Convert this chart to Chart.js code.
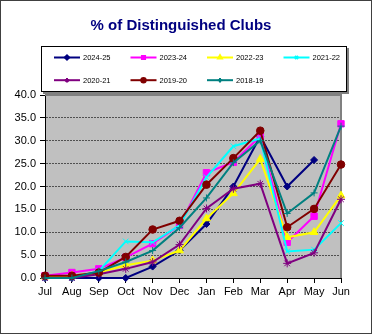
<!DOCTYPE html>
<html>
<head>
<meta charset="utf-8">
<script src="https://cdn.jsdelivr.net/npm/chart.js@4/dist/chart.umd.min.js"></script>
<style>
  body { margin: 0; background: #fff; }
</style>
</head>
<body>
<canvas id="clubsChart" width="372" height="334"></canvas>
<script>
// categories
const months = ['Jul', 'Aug', 'Sep', 'Oct', 'Nov', 'Dec', 'Jan', 'Feb', 'Mar', 'Apr', 'May', 'Jun'];

// % distinguished clubs per program year
const fy2425 = [0, 0, 0, 0, 2.5, 6, 11.8, 20, 31, 20, 25.8, null];
const fy2324 = [0.5, 1.2, 2, 4.5, 7.5, 11.5, 23, 25.3, 31, 7.8, 13.5, 33.7];
const fy2223 = [0.3, 0.5, 1.2, 2.8, 3.8, 6, 13, 18.5, 26, 8.9, 10, 18];
const fy2122 = [0, 0, 1.5, 8, 7.8, 11.5, 22, 28.8, 30.5, 5.8, 6.2, 12];
const fy2021 = [0, 0, 0.8, 2, 3.5, 7.3, 15.2, 19.5, 20.6, 3.2, 5.5, 17.2];
const fy1920 = [0.5, 0.5, 1.2, 4.6, 10.6, 12.5, 20.4, 26.2, 32.2, 11.1, 15.1, 24.8];
const fy1819 = [0, 0, 1.5, 3.5, 6, 11, 17.5, 25.2, 30, 14.1, 18.6, 33.2];

const seriesNames = ['2024-25', '2023-24', '2022-23', '2021-22', '2020-21', '2019-20', '2018-19'];
const yTicks = [0, 5, 10, 15, 20, 25, 30, 35, 40];

const FONT = "'Liberation Sans', Arial, sans-serif";

// colour / marker per series
const looks = [
    { color: '#000080', style: 'rectRot', r: 3.5 },
    { color: '#ff00ff', style: 'rect', r: 4.5 },
    { color: '#ffff00', style: 'triangle', r: 4.5 },
    { color: '#00ffff', style: 'crossRot', r: 4 },
    { color: '#800080', style: 'star', r: 4 },
    { color: '#800000', style: 'circle', r: 3.8 },
    { color: '#008080', style: 'cross', r: 3.5 }
];

const allValues = [fy2425, fy2324, fy2223, fy2122, fy2021, fy1920, fy1819];

const datasets = allValues.map((vals, i) => ({
    label: seriesNames[i],
    data: vals,
    borderColor: looks[i].color,
    backgroundColor: looks[i].color,
    borderWidth: 2,
    pointStyle: looks[i].style,
    pointRadius: looks[i].r,
    pointBorderWidth: 1,
    pointHoverRadius: looks[i].r,
    tension: 0,
    spanGaps: false,
    clip: false,
    order: allValues.length - i   // later years drawn on top like Excel
}));

// plot background, outer frame, title and legend box
const excelLook = {
    id: 'excelLook',
    beforeDraw(chart) {
        const { ctx, chartArea: a } = chart;
        ctx.save();
        ctx.fillStyle = '#fff';
        ctx.fillRect(0, 0, chart.width, chart.height);
        ctx.strokeStyle = '#404040';
        ctx.lineWidth = 1;
        ctx.strokeRect(0.5, 0.5, chart.width - 1, chart.height - 1);
        ctx.fillStyle = '#c0c0c0';
        ctx.fillRect(a.left, a.top, a.right - a.left, a.bottom - a.top);
        ctx.restore();
    },
    beforeDatasetsDraw(chart) {
        const { ctx, chartArea: a } = chart;
        ctx.save();
        ctx.strokeStyle = '#808080';
        ctx.lineWidth = 2;
        ctx.beginPath();
        ctx.moveTo(a.left, a.top);
        ctx.lineTo(a.right, a.top);
        ctx.lineTo(a.right, a.bottom);
        ctx.stroke();
        ctx.restore();
    },
    afterDraw(chart) {
        const ctx = chart.ctx;
        ctx.save();
        // title
        ctx.fillStyle = '#000080';
        ctx.font = 'bold 15px ' + FONT;
        ctx.textAlign = 'center';
        ctx.textBaseline = 'middle';
        ctx.fillText('% of Distinguished Clubs', 181, 26);

        // legend box with shadow
        ctx.fillStyle = '#808080';
        ctx.fillRect(43, 48, 306, 46);
        ctx.fillStyle = '#fff';
        ctx.fillRect(41, 46, 306, 46);
        ctx.strokeStyle = '#000';
        ctx.lineWidth = 1;
        ctx.strokeRect(41.5, 46.5, 305, 45);

        ctx.font = '7.5px ' + FONT;
        ctx.textAlign = 'left';
        chart.data.datasets.forEach((ds, i) => {
            const x0 = 54 + (i % 4) * 76.5;
            const y = 57.5 + Math.floor(i / 4) * 22.7;
            ctx.strokeStyle = ds.borderColor;
            ctx.lineWidth = 2;
            ctx.beginPath();
            ctx.moveTo(x0, y);
            ctx.lineTo(x0 + 26, y);
            ctx.stroke();
            ctx.fillStyle = ds.borderColor;
            Chart.helpers.drawPoint(ctx, {
                pointStyle: ds.pointStyle, radius: 2.2, borderWidth: 1, rotation: 0
            }, x0 + 13, y);
            ctx.fillStyle = '#000';
            ctx.fillText(ds.label, x0 + 29, y + 0.5);
        });
        ctx.restore();
    }
};

const ctx = document.getElementById('clubsChart').getContext('2d');
const clubsChart = new Chart(ctx, {
    type: 'line',
    data: { labels: months, datasets: datasets },
    options: {
        responsive: false,
        animation: false,
        devicePixelRatio: 1,
        layout: { padding: { left: 0, right: 31, top: 95, bottom: 26 } },
        plugins: {
            legend: { display: false },
            title: { display: false },
            tooltip: { enabled: false }
        },
        scales: {
            x: {
                afterFit(scale) { scale.height = 30; },
                grid: {
                    display: true,
                    drawOnChartArea: false,
                    drawTicks: true,
                    tickLength: 5,
                    tickColor: '#000'
                },
                border: { display: true, color: '#000', width: 1 },
                ticks: {
                    color: '#000',
                    font: { family: FONT, size: 11 },
                    padding: 2,
                    maxRotation: 0,
                    autoSkip: false
                }
            },
            y: {
                min: yTicks[0],
                max: yTicks[yTicks.length - 1],
                afterFit(scale) { scale.width = 45; },
                afterBuildTicks(scale) { scale.ticks = yTicks.map(v => ({ value: v })); },
                grid: {
                    color: '#505050',
                    lineWidth: 1,
                    drawTicks: true,
                    tickLength: 5,
                    tickColor: '#000'
                },
                border: { display: true, color: '#000', width: 1, dash: [2, 1] },
                ticks: {
                    color: '#000',
                    font: { family: FONT, size: 11 },
                    padding: 4,
                    callback: v => Number(v).toFixed(1)
                }
            }
        }
    },
    plugins: [excelLook]
});
</script>
</body>
</html>
